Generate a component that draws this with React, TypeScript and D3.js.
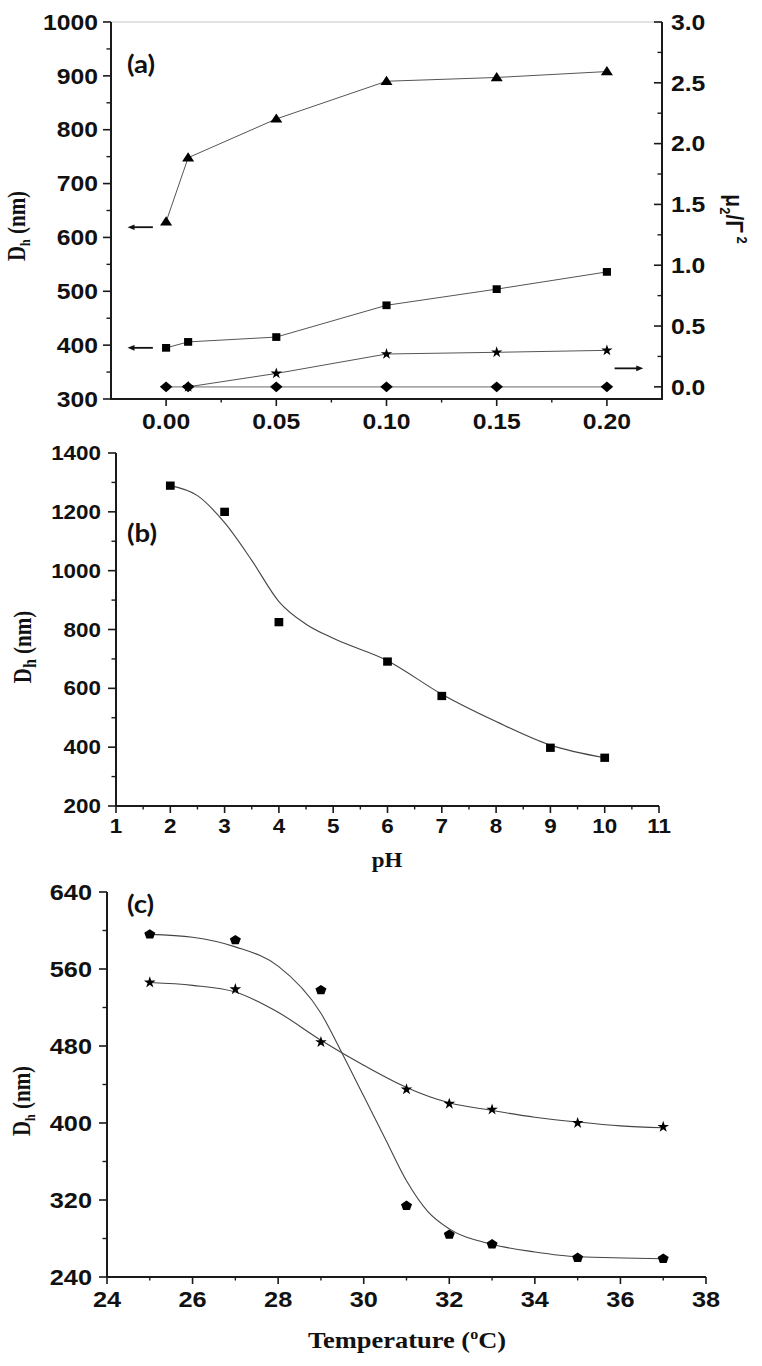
import React from "react";
import * as d3 from "d3";

// ---------- Panel (a): salt concentration ----------
const aConc = [0, 0.01, 0.05, 0.1, 0.15, 0.2];
const aTriangleDh = [629, 748, 820, 890, 897, 908];
const aSquareDh = [395, 406, 415, 474, 504, 536];
const aStarConc = [0.01, 0.05, 0.1, 0.15, 0.2];
const aStarPdi = [0.0, 0.11, 0.27, 0.284, 0.3];
const aDiamondPdi = [0, 0, 0, 0, 0, 0];
const aXTicks = [0, 0.05, 0.1, 0.15, 0.2];
const aXMinor = [0.025, 0.075, 0.125, 0.175];
const aYLeftTicks = [300, 400, 500, 600, 700, 800, 900, 1000];
const aYLeftMinor = [350, 450, 550, 650, 750, 850, 950];
const aYRightTicks = [0, 0.5, 1.0, 1.5, 2.0, 2.5, 3.0];
const aYRightMinor = [0.25, 0.75, 1.25, 1.75, 2.25, 2.75];
const aArrowsLeft = [
  { from: -0.006, to: -0.0175, value: 619 },
  { from: -0.006, to: -0.0175, value: 395 },
];
const aArrowsRight = [{ from: 0.2035, to: 0.2165, value: 0.152 }];

// ---------- Panel (b): pH ----------
const bPH = [2, 3, 4, 6, 7, 9, 10];
const bDh = [1289, 1200, 825, 691, 574, 398, 364];
const bFitPH = [2, 2.5, 3, 3.5, 4, 4.5, 5, 6, 7, 8, 9, 10];
const bFitDh = [1289, 1255, 1163, 1035, 895, 818, 770, 694, 580, 487, 407, 364];
const bXTicks = [1, 2, 3, 4, 5, 6, 7, 8, 9, 10, 11];
const bXMinor = [1.5, 2.5, 3.5, 4.5, 5.5, 6.5, 7.5, 8.5, 9.5, 10.5];
const bYTicks = [200, 400, 600, 800, 1000, 1200, 1400];
const bYMinor = [300, 500, 700, 900, 1100, 1300];

// ---------- Panel (c): temperature ----------
const cTemp = [25, 27, 29, 31, 32, 33, 35, 37];
const cPentagonDh = [596, 590, 538, 314, 284, 274, 260, 259];
const cStarDh = [546, 539, 484, 435, 420, 414, 400, 396];
const cPentFitT = [25, 26, 27, 28, 29, 29.5, 30, 30.5, 31, 31.5, 32, 33, 34, 35, 37];
const cPentFitDh = [596, 593, 583, 563, 514, 472, 428, 384, 340, 308, 290, 274, 266, 261, 259];
const cStarFitT = [25, 26, 27, 28, 29, 30, 31, 32, 33, 34, 35, 36, 37];
const cStarFitDh = [546, 543, 536, 515, 486, 460, 437, 421, 413, 406, 401, 397, 395];
const cXTicks = [24, 26, 28, 30, 32, 34, 36, 38];
const cXMinor = [25, 27, 29, 31, 33, 35, 37];
const cYTicks = [240, 320, 400, 480, 560, 640];
const cYMinor = [280, 360, 440, 520, 600];

const SX = 1.15;
const SANS = "'Liberation Sans', Arial, sans-serif";
const SERIF = "'Liberation Serif', 'Times New Roman', serif";
const PANEL = "Lato, 'Open Sans', sans-serif";
const AX = "#1a1a1a";

const zip = (xs: number[], ys: number[]) => xs.map((x, i) => [x, ys[i]] as [number, number]);

const triangleType = {
  draw(ctx: any, size: number) {
    const w = Math.sqrt(size) * 0.72;
    const h = Math.sqrt(size) * 1.1;
    ctx.moveTo(0, -h * 0.6);
    ctx.lineTo(w, h * 0.4);
    ctx.lineTo(-w, h * 0.4);
    ctx.closePath();
  },
};
const squareType = {
  draw(ctx: any, size: number) {
    const s = Math.sqrt(size) / 2;
    ctx.rect(-s, -s * 0.95, 2 * s, 2 * s * 0.95);
  },
};
const diamondType = {
  draw(ctx: any, size: number) {
    const s = Math.sqrt(size);
    ctx.moveTo(0, -s * 0.62);
    ctx.lineTo(s * 0.72, 0);
    ctx.lineTo(0, s * 0.62);
    ctx.lineTo(-s * 0.72, 0);
    ctx.closePath();
  },
};
const pentagonType = {
  draw(ctx: any, size: number) {
    const r = Math.sqrt(size) * 0.6;
    for (let i = 0; i < 5; i++) {
      const a = -Math.PI / 2 + (i * 2 * Math.PI) / 5;
      const px = Math.cos(a) * r * 1.12;
      const py = Math.sin(a) * r;
      if (i === 0) ctx.moveTo(px, py);
      else ctx.lineTo(px, py);
    }
    ctx.closePath();
  },
};

const sym = (type: any, size: number) => d3.symbol().type(type).size(size)() as string;

type TxtProps = {
  x: number;
  y: number;
  size: number;
  family: string;
  anchor?: string;
  rot?: number;
  dy?: string;
  weight?: string;
  children: React.ReactNode;
};
function Txt({ x, y, size, family, anchor = "start", rot = 0, dy, weight = "bold", children }: TxtProps) {
  const tr =
    rot === 0
      ? `translate(${x},${y}) scale(${SX},1)`
      : `translate(${x},${y}) rotate(${rot}) scale(1,${SX})`;
  return (
    <text transform={tr} fontSize={size} fontFamily={family} fontWeight={weight} textAnchor={anchor as any} dy={dy} fill="#111">
      {children}
    </text>
  );
}

function Markers({ pts, path, fill = "#000" }: { pts: [number, number][]; path: string; fill?: string }) {
  return (
    <g>
      {pts.map(([x, y], i) => (
        <path key={i} d={path} transform={`translate(${x},${y})`} fill={fill} />
      ))}
    </g>
  );
}

function Arrow({ x1, x2, y }: { x1: number; x2: number; y: number }) {
  const dir = Math.sign(x2 - x1);
  const hl = 7;
  return (
    <g>
      <line x1={x1} x2={x2 - dir * hl * 0.6} y1={y} y2={y} stroke="#111" strokeWidth={1.8} />
      <path d={`M${x2},${y} L${x2 - dir * hl},${y - 2.8} L${x2 - dir * hl},${y + 2.8} Z`} fill="#111" />
    </g>
  );
}

export default function App() {
  const ax = d3.scaleLinear().domain([-0.025, 0.225]).range([111, 662]);
  const ayL = d3.scaleLinear().domain([300, 1000]).range([399, 22]);
  const ayR = d3.scaleLinear().domain([-0.1, 3.0]).range([399, 22]);
  const bx = d3.scaleLinear().domain([1, 11]).range([116, 659]);
  const by = d3.scaleLinear().domain([200, 1400]).range([806, 453]);
  const cx = d3.scaleLinear().domain([24, 38]).range([107, 706]);
  const cy = d3.scaleLinear().domain([240, 640]).range([1277, 892]);

  const straight = d3.line<[number, number]>();
  const smooth = d3.line<[number, number]>().curve(d3.curveMonotoneX);

  const aTri = zip(aConc, aTriangleDh).map(([x, y]) => [ax(x), ayL(y)] as [number, number]);
  const aSq = zip(aConc, aSquareDh).map(([x, y]) => [ax(x), ayL(y)] as [number, number]);
  const aSt = zip(aStarConc, aStarPdi).map(([x, y]) => [ax(x), ayR(y)] as [number, number]);
  const aDi = zip(aConc, aDiamondPdi).map(([x, y]) => [ax(x), ayR(y)] as [number, number]);

  const bPts = zip(bPH, bDh).map(([x, y]) => [bx(x), by(y)] as [number, number]);
  const bFit = zip(bFitPH, bFitDh).map(([x, y]) => [bx(x), by(y)] as [number, number]);

  const cPent = zip(cTemp, cPentagonDh).map(([x, y]) => [cx(x), cy(y)] as [number, number]);
  const cSt = zip(cTemp, cStarDh).map(([x, y]) => [cx(x), cy(y)] as [number, number]);
  const cPentFit = zip(cPentFitT, cPentFitDh).map(([x, y]) => [cx(x), cy(y)] as [number, number]);
  const cStarFit = zip(cStarFitT, cStarFitDh).map(([x, y]) => [cx(x), cy(y)] as [number, number]);

  const MAJ = 8;
  const MIN = 4.5;

  const leftAxis = (scale: any, x0: number, ticks: number[], minor: number[], fmt: (v: number) => string, size: number, gap: number) => (
    <g>
      <line x1={x0} x2={x0} y1={scale.range()[0] + 1} y2={scale.range()[1]} stroke={AX} strokeWidth={2} />
      {ticks.map((t) => (
        <line key={"M" + t} x1={x0 - MAJ} x2={x0} y1={scale(t)} y2={scale(t)} stroke={AX} strokeWidth={1.6} />
      ))}
      {minor.map((t) => (
        <line key={"m" + t} x1={x0 - MIN} x2={x0} y1={scale(t)} y2={scale(t)} stroke={AX} strokeWidth={1.4} />
      ))}
      {ticks.map((t) => (
        <Txt key={"L" + t} x={x0 - gap} y={scale(t)} size={size} family={SANS} anchor="end" dy="0.36em">
          {fmt(t)}
        </Txt>
      ))}
    </g>
  );

  const bottomAxis = (scale: any, y0: number, ticks: number[], minor: number[], fmt: (v: number) => string, size: number, base: number) => (
    <g>
      <line x1={scale.range()[0] - 1} x2={scale.range()[1]} y1={y0} y2={y0} stroke={AX} strokeWidth={2} />
      {ticks.map((t) => (
        <line key={"M" + t} x1={scale(t)} x2={scale(t)} y1={y0} y2={y0 + MAJ - 1} stroke={AX} strokeWidth={1.6} />
      ))}
      {minor.map((t) => (
        <line key={"m" + t} x1={scale(t)} x2={scale(t)} y1={y0} y2={y0 + MIN - 1} stroke={AX} strokeWidth={1.4} />
      ))}
      {ticks.map((t) => (
        <Txt key={"L" + t} x={scale(t)} y={base} size={size} family={SANS} anchor="middle">
          {fmt(t)}
        </Txt>
      ))}
    </g>
  );

  return (
    <svg width={762} height={1366} style={{ position: "absolute", left: 0, top: 0, background: "#fff" }}>
      <rect x={0} y={0} width={762} height={1366} fill="#fff" />

      {/* ================= Panel (a) ================= */}
      <line x1={ax(-0.025)} x2={ax(0.225)} y1={ayL(1000)} y2={ayL(1000)} stroke="#c8c8c8" strokeWidth={1} />
      {leftAxis(ayL, 111, aYLeftTicks, aYLeftMinor, (v) => String(v), 21.5, 13)}
      {bottomAxis(ax, 399, aXTicks, aXMinor, (v) => v.toFixed(2), 21.5, 429)}
      <g>
        <line x1={662} x2={662} y1={400} y2={22} stroke={AX} strokeWidth={2} />
        {aYRightTicks.map((t) => (
          <line key={"RM" + t} x1={662 - MAJ} x2={662} y1={ayR(t)} y2={ayR(t)} stroke={AX} strokeWidth={1.6} />
        ))}
        {aYRightMinor.map((t) => (
          <line key={"Rm" + t} x1={662 - MIN} x2={662} y1={ayR(t)} y2={ayR(t)} stroke={AX} strokeWidth={1.4} />
        ))}
        {aYRightTicks.map((t) => (
          <Txt key={"RL" + t} x={671} y={ayR(t)} size={21.5} family={SANS} dy="0.36em">
            {t.toFixed(1)}
          </Txt>
        ))}
      </g>
      <path d={straight(aDi) as string} fill="none" stroke="#a8a8a8" strokeWidth={1.6} />
      <path d={straight(aTri) as string} fill="none" stroke="#555" strokeWidth={1} />
      <path d={straight(aSq) as string} fill="none" stroke="#555" strokeWidth={1} />
      <path d={straight(aSt) as string} fill="none" stroke="#555" strokeWidth={1} />
      <Markers pts={aTri} path={sym(triangleType, 70)} />
      <Markers pts={aSq} path={sym(squareType, 66)} />
      <Markers pts={aSt} path={sym(d3.symbolStar, 40)} />
      <Markers pts={aDi} path={sym(diamondType, 76)} />
      {aArrowsLeft.map((a, i) => (
        <Arrow key={"al" + i} x1={ax(a.from)} x2={ax(a.to)} y={ayL(a.value)} />
      ))}
      {aArrowsRight.map((a, i) => (
        <Arrow key={"ar" + i} x1={ax(a.from)} x2={ax(a.to)} y={ayR(a.value)} />
      ))}
      <Txt x={127} y={73} size={24} family={PANEL}>(a)</Txt>
      <Txt x={25} y={226} size={21} family={SERIF} anchor="middle" rot={-90}>
        D<tspan fontSize={12} dy={4}>h</tspan>
        <tspan dy={-4}> (nm)</tspan>
      </Txt>
      <Txt x={726} y={219} size={21} family={SANS} anchor="middle" rot={90}>
        μ<tspan fontSize={13} dy={5}>2</tspan>
        <tspan dy={-5}>/Γ</tspan>
        <tspan fontSize={13} dy={-10}> 2</tspan>
      </Txt>

      {/* ================= Panel (b) ================= */}
      {leftAxis(by, 116, bYTicks, bYMinor, (v) => String(v), 19.5, 15)}
      {bottomAxis(bx, 806, bXTicks, bXMinor, (v) => String(v), 19.5, 833)}
      <path d={smooth(bFit) as string} fill="none" stroke="#444" strokeWidth={1.1} />
      <Markers pts={bPts} path={sym(squareType, 76)} />
      <Txt x={127} y={542} size={24} family={PANEL}>(b)</Txt>
      <Txt x={31} y={647} size={21} family={SERIF} anchor="middle" rot={-90}>
        D<tspan fontSize={16} dy={4}>h</tspan>
        <tspan dy={-4}> (nm)</tspan>
      </Txt>
      <Txt x={387} y={867} size={20} family={SERIF} anchor="middle">pH</Txt>

      {/* ================= Panel (c) ================= */}
      {leftAxis(cy, 107, cYTicks, cYMinor, (v) => String(v), 22, 15)}
      {bottomAxis(cx, 1277, cXTicks, cXMinor, (v) => String(v), 22, 1307)}
      <path d={smooth(cPentFit) as string} fill="none" stroke="#444" strokeWidth={1.1} />
      <path d={smooth(cStarFit) as string} fill="none" stroke="#444" strokeWidth={1.1} />
      <Markers pts={cPent} path={sym(pentagonType, 74)} />
      <Markers pts={cSt} path={sym(d3.symbolStar, 42)} />
      <Txt x={127} y={913} size={24} family={PANEL}>(c)</Txt>
      <Txt x={30} y={1101} size={21} family={SERIF} anchor="middle" rot={-90}>
        D<tspan fontSize={12} dy={4}>h</tspan>
        <tspan dy={-4}> (nm)</tspan>
      </Txt>
      <Txt x={407} y={1348} size={23} family={SERIF} anchor="middle">
        Temperature (<tspan fontSize={14} dy={-9}>o</tspan>
        <tspan dy={9}>C)</tspan>
      </Txt>
    </svg>
  );
}
